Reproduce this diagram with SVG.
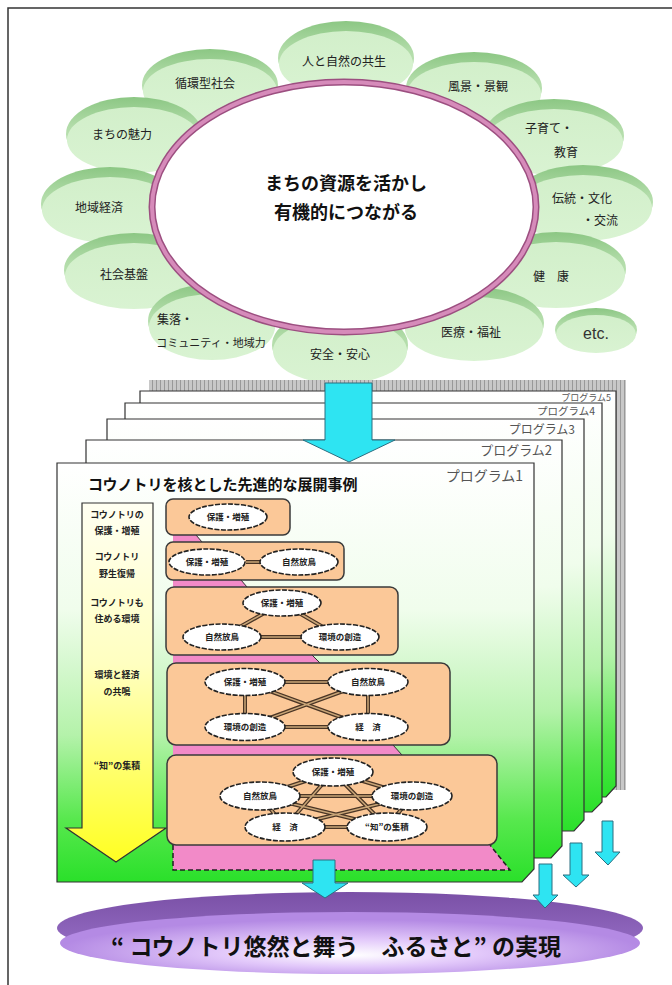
<svg xmlns="http://www.w3.org/2000/svg" width="672" height="985" viewBox="0 0 672 985">
<defs>
<style>
.jp{font-family:"Noto Sans CJK JP","Noto Sans",sans-serif}
.pt{font-family:"Noto Sans CJK JP","Noto Sans",sans-serif;font-size:12px;fill:#222;text-anchor:middle}
.rim{fill:url(#rimG)}
.face{fill:url(#faceG)}
.card{fill:url(#cardG);stroke:#333;stroke-width:1.2}
.plab{font-family:"Noto Sans CJK JP","Noto Sans",sans-serif;fill:#555;text-anchor:end}
.box{fill:#fbc898;stroke:#3a3a3a;stroke-width:1.5}
.ov{fill:#fff;stroke:#222;stroke-width:1.6;stroke-dasharray:5 1.5}
.ot{font-family:"Noto Sans CJK JP","Noto Sans",sans-serif;font-size:8.5px;font-weight:700;fill:#222;text-anchor:middle}
.lt{font-family:"Noto Sans CJK JP","Noto Sans",sans-serif;font-size:9px;font-weight:700;fill:#222;text-anchor:middle}
.pink{fill:#f28ac8}
.edge{stroke:#4a3525;stroke-width:4;fill:none}
.edgei{stroke:#c9a577;stroke-width:1.5;fill:none}
.cy{fill:#2ee4f2;stroke:#2b6e80;stroke-width:1}
</style>
<linearGradient id="rimG" x1="0" y1="0" x2="0" y2="1"><stop offset="0" stop-color="#8cc784"/><stop offset="0.4" stop-color="#b2dca9"/><stop offset="1" stop-color="#c9e9c0"/></linearGradient>
<linearGradient id="faceG" x1="0" y1="0" x2="0" y2="1"><stop offset="0" stop-color="#d2efca"/><stop offset="1" stop-color="#d9f3d2"/></linearGradient>
<linearGradient id="cardG" x1="0" y1="0" x2="0" y2="1"><stop offset="0" stop-color="#ffffff"/><stop offset="0.35" stop-color="#f0fdec"/><stop offset="0.65" stop-color="#b4f2aa"/><stop offset="0.85" stop-color="#58e84e"/><stop offset="1" stop-color="#2ae02a"/></linearGradient>
<linearGradient id="yelG" x1="0" y1="0" x2="0" y2="1"><stop offset="0" stop-color="#fffff2"/><stop offset="0.45" stop-color="#ffffc0"/><stop offset="1" stop-color="#ffff22"/></linearGradient>
<linearGradient id="purRim" x1="0" y1="0" x2="0" y2="1"><stop offset="0" stop-color="#7a50a6"/><stop offset="1" stop-color="#9c74cc"/></linearGradient>
<radialGradient id="purFace" cx="0.5" cy="0.62" r="0.5" fx="0.5" fy="0.7"><stop offset="0" stop-color="#ffffff"/><stop offset="0.45" stop-color="#e2c8fa"/><stop offset="1" stop-color="#b48ae4"/></radialGradient>
<pattern id="hatch" width="4" height="4" patternUnits="userSpaceOnUse"><rect width="4" height="4" fill="#c8c8c8"/><rect width="1" height="4" fill="#999"/></pattern>
</defs>
<rect width="672" height="985" fill="#fff"/>
<g id="frame" stroke="#333" stroke-width="1.5" fill="none"><path d="M8,985 V8 H672"/></g>

<g id="petals">
<g id="p-kyosei"><ellipse class="rim" cx="346" cy="58" rx="68" ry="37"/><ellipse class="face" cx="346" cy="64" rx="67" ry="33"/><text class="pt" x="344" y="66">人と自然の共生</text></g>
<g id="p-junkan"><ellipse class="rim" cx="210" cy="85" rx="68" ry="36"/><ellipse class="face" cx="210" cy="91" rx="67" ry="32"/><text class="pt" x="205" y="88">循環型社会</text></g>
<g id="p-fukei"><ellipse class="rim" cx="474" cy="88" rx="68" ry="36"/><ellipse class="face" cx="474" cy="94" rx="67" ry="32"/><text class="pt" x="478" y="91">風景・景観</text></g>
<g id="p-miryoku"><ellipse class="rim" cx="134" cy="134" rx="68" ry="37"/><ellipse class="face" cx="134" cy="140" rx="67" ry="33"/><text class="pt" x="122" y="139">まちの魅力</text></g>
<g id="p-kosodate"><ellipse class="rim" cx="554" cy="136" rx="70" ry="37"/><ellipse class="face" cx="554" cy="142" rx="69" ry="33"/><text class="pt" x="549" y="133">子育て・</text><text class="pt" x="566" y="157">教育</text></g>
<g id="p-keizai"><ellipse class="rim" cx="110" cy="204" rx="69" ry="37"/><ellipse class="face" cx="110" cy="210" rx="68" ry="33"/><text class="pt" x="99" y="212">地域経済</text></g>
<g id="p-dento"><ellipse class="rim" cx="583" cy="202" rx="70" ry="37"/><ellipse class="face" cx="583" cy="208" rx="69" ry="33"/><text class="pt" x="582" y="203">伝統・文化</text><text class="pt" x="600" y="225">・交流</text></g>
<g id="p-kiban"><ellipse class="rim" cx="134" cy="270" rx="70" ry="37"/><ellipse class="face" cx="134" cy="276" rx="69" ry="33"/><text class="pt" x="124" y="279">社会基盤</text></g>
<g id="p-kenko"><ellipse class="rim" cx="556" cy="269" rx="70" ry="37"/><ellipse class="face" cx="556" cy="275" rx="69" ry="33"/><text class="pt" x="551" y="281">健　康</text></g>
<g id="p-shuraku"><ellipse class="rim" cx="212" cy="321" rx="64" ry="37"/><ellipse class="face" cx="212" cy="327" rx="63" ry="33"/><text class="pt" x="175" y="324">集落・</text><text class="pt" x="211" y="347" style="font-size:11px">コミュニティ・地域力</text></g>
<g id="p-iryo"><ellipse class="rim" cx="474" cy="323" rx="70" ry="36"/><ellipse class="face" cx="474" cy="329" rx="69" ry="32"/><text class="pt" x="471" y="337">医療・福祉</text></g>
<g id="p-anzen"><ellipse class="rim" cx="340" cy="345" rx="68" ry="37"/><ellipse class="face" cx="340" cy="351" rx="67" ry="33"/><text class="pt" x="340" y="359">安全・安心</text></g>
<g id="p-etc"><ellipse class="rim" cx="596" cy="330" rx="41" ry="22"/><ellipse class="face" cx="596" cy="334" rx="40" ry="19"/><text x="596" y="339" style="font-family:'Liberation Sans',sans-serif;font-size:16px;fill:#333;text-anchor:middle">etc.</text></g>
</g>

<g id="ring">
<ellipse cx="344" cy="207" rx="192" ry="125" fill="#fff" stroke="#9c4f80" stroke-width="7"/>
<ellipse cx="344" cy="207" rx="192" ry="125" fill="none" stroke="#d68bba" stroke-width="4"/>
<text class="jp" x="346" y="190" style="font-size:18px;font-weight:700;fill:#111;text-anchor:middle">まちの資源を活かし</text>
<text class="jp" x="346" y="219" style="font-size:18px;font-weight:700;fill:#111;text-anchor:middle">有機的につながる</text>
</g>

<g id="programs">
<rect x="149" y="380" width="477" height="410" fill="url(#hatch)"/>
<g id="prog5"><polygon class="card" points="140,391 616,391 616,786 606,797 140,797"/><text class="plab" x="611" y="401" style="font-size:9px">プログラム5</text></g>
<g id="prog4"><polygon class="card" points="125,403 602,403 602,802 592,812 125,812"/><text class="plab" x="595" y="415" style="font-size:10.5px">プログラム4</text></g>
<g id="prog3"><polygon class="card" points="107,419 584,419 584,820 574,831 107,831"/><text class="plab" x="575" y="434" style="font-size:12px">プログラム3</text></g>
<g id="prog2"><polygon class="card" points="86,440 562,440 562,846 551,858 86,858"/><text class="plab" x="552" y="455" style="font-size:13px">プログラム2</text></g>
<g id="prog1"><polygon class="card" points="57,463 534,463 534,869 522,882 57,882"/><text class="plab" x="523" y="481" style="font-size:14px">プログラム1</text>
<text class="jp" x="88" y="490" style="font-size:15px;font-weight:700;fill:#111">コウノトリを核とした先進的な展開事例</text>
</g>
</g>

<g id="stages">
<polygon points="82,503 153,503 153,828 166,828 116,862 66,828 82,828" fill="url(#yelG)" stroke="#333" stroke-width="1.2"/>
<text class="lt" x="117" y="518">コウノトリの</text><text class="lt" x="117" y="534">保護・増殖</text>
<text class="lt" x="117" y="560">コウノトリ</text><text class="lt" x="117" y="577">野生復帰</text>
<text class="lt" x="117" y="606">コウノトリも</text><text class="lt" x="117" y="622">住める環境</text>
<text class="lt" x="117" y="678">環境と経済</text><text class="lt" x="117" y="695">の共鳴</text>
<text class="lt" x="117" y="769">“知”の集積</text>

<g id="steps">
<polygon class="pink" points="173,535 196,535 202,542 173,542"/><line x1="196" y1="535" x2="202" y2="542" stroke="#333"/>
<polygon class="pink" points="173,580 241,580 247,587 173,587"/><line x1="241" y1="580" x2="247" y2="587" stroke="#333"/>
<polygon class="pink" points="173,655 312,655 320,663 173,663"/><line x1="312" y1="655" x2="320" y2="663" stroke="#333"/>
<polygon class="pink" points="173,745 393,745 402,755 173,755"/><line x1="393" y1="745" x2="402" y2="755" stroke="#333"/>
<polygon class="pink" points="173,845 490,845 510,870 173,870"/><polyline points="173,845 173,870 510,870 490,845" fill="none" stroke="#222" stroke-width="1.5" stroke-dasharray="5 3"/>
</g>

<rect id="box1" class="box" x="166" y="499" width="124" height="36" rx="7"/>
<rect id="box2" class="box" x="166" y="542" width="178" height="38" rx="7"/>
<rect id="box3" class="box" x="166" y="587" width="232" height="68" rx="8"/>
<rect id="box4" class="box" x="167" y="663" width="283" height="82" rx="9"/>
<rect id="box5" class="box" x="167" y="755" width="330" height="90" rx="9"/>
</g>

<g id="connectors">
<path class="edge" d="M246,562 H260 M282,603 L222,637 M282,603 L340,637 M222,637 H340 M245,682 H368 M245,727 H368 M245,682 V727 M368,682 V727 M245,682 L368,727 M368,682 L245,727 M333,772 L260,796 M333,772 L412,796 M333,772 L285,827 M333,772 L387,827 M260,796 H412 M260,796 L285,827 M260,796 L387,827 M412,796 L285,827 M412,796 L387,827 M285,827 H387"/>
<path class="edgei" d="M246,562 H260 M282,603 L222,637 M282,603 L340,637 M222,637 H340 M245,682 H368 M245,727 H368 M245,682 V727 M368,682 V727 M245,682 L368,727 M368,682 L245,727 M333,772 L260,796 M333,772 L412,796 M333,772 L285,827 M333,772 L387,827 M260,796 H412 M260,796 L285,827 M260,796 L387,827 M412,796 L285,827 M412,796 L387,827 M285,827 H387"/>
</g>

<g id="nodes">
<g id="n1a"><ellipse class="ov" cx="228" cy="517" rx="39" ry="13"/><text class="ot" x="228" y="520">保護・増殖</text></g>
<g id="n2a"><ellipse class="ov" cx="207" cy="562" rx="38" ry="13"/><text class="ot" x="207" y="565">保護・増殖</text></g>
<g id="n2b"><ellipse class="ov" cx="299" cy="562" rx="39" ry="13"/><text class="ot" x="299" y="565">自然放鳥</text></g>
<g id="n3a"><ellipse class="ov" cx="282" cy="603" rx="39" ry="13"/><text class="ot" x="282" y="606">保護・増殖</text></g>
<g id="n3b"><ellipse class="ov" cx="222" cy="637" rx="39" ry="13"/><text class="ot" x="222" y="640">自然放鳥</text></g>
<g id="n3c"><ellipse class="ov" cx="340" cy="637" rx="39" ry="13"/><text class="ot" x="340" y="640">環境の創造</text></g>
<g id="n4a"><ellipse class="ov" cx="245" cy="682" rx="40" ry="13.5"/><text class="ot" x="245" y="685">保護・増殖</text></g>
<g id="n4b"><ellipse class="ov" cx="368" cy="682" rx="40" ry="13.5"/><text class="ot" x="368" y="685">自然放鳥</text></g>
<g id="n4c"><ellipse class="ov" cx="245" cy="727" rx="40" ry="13.5"/><text class="ot" x="245" y="730">環境の創造</text></g>
<g id="n4d"><ellipse class="ov" cx="368" cy="727" rx="40" ry="13.5"/><text class="ot" x="368" y="730">経　済</text></g>
<g id="n5a"><ellipse class="ov" cx="333" cy="772" rx="40" ry="14"/><text class="ot" x="333" y="775">保護・増殖</text></g>
<g id="n5b"><ellipse class="ov" cx="260" cy="796" rx="40" ry="14"/><text class="ot" x="260" y="799">自然放鳥</text></g>
<g id="n5c"><ellipse class="ov" cx="412" cy="796" rx="40" ry="14"/><text class="ot" x="412" y="799">環境の創造</text></g>
<g id="n5d"><ellipse class="ov" cx="285" cy="827" rx="40" ry="14"/><text class="ot" x="285" y="830">経　済</text></g>
<g id="n5e"><ellipse class="ov" cx="387" cy="827" rx="40" ry="14"/><text class="ot" x="387" y="830">“知”の集積</text></g>
</g>

<g id="goal">
<ellipse cx="350" cy="928" rx="293" ry="36" fill="url(#purRim)"/>
<ellipse cx="350" cy="943" rx="290" ry="31" fill="url(#purFace)"/>
<text class="jp" x="336" y="955" style="font-size:23px;font-weight:700;fill:#111;text-anchor:middle">“ コウノトリ悠然と舞う　ふるさと” の実現</text>
</g>

<g id="arrows">
<polygon class="cy" points="325,383 372,383 372,440 395,440 349,462 303,440 325,440"/>
<polygon class="cy" points="313,860 335,860 335,883 348,883 325,898 302,883 313,883"/>
<polygon class="cy" points="539,864 552,864 552,895 558,895 545,908 533,895 539,895"/>
<polygon class="cy" points="570,843 582,843 582,875 589,875 576,887 563,875 570,875"/>
<polygon class="cy" points="602,821 613,821 613,852 620,852 608,865 595,852 602,852"/>
</g>
</svg>
